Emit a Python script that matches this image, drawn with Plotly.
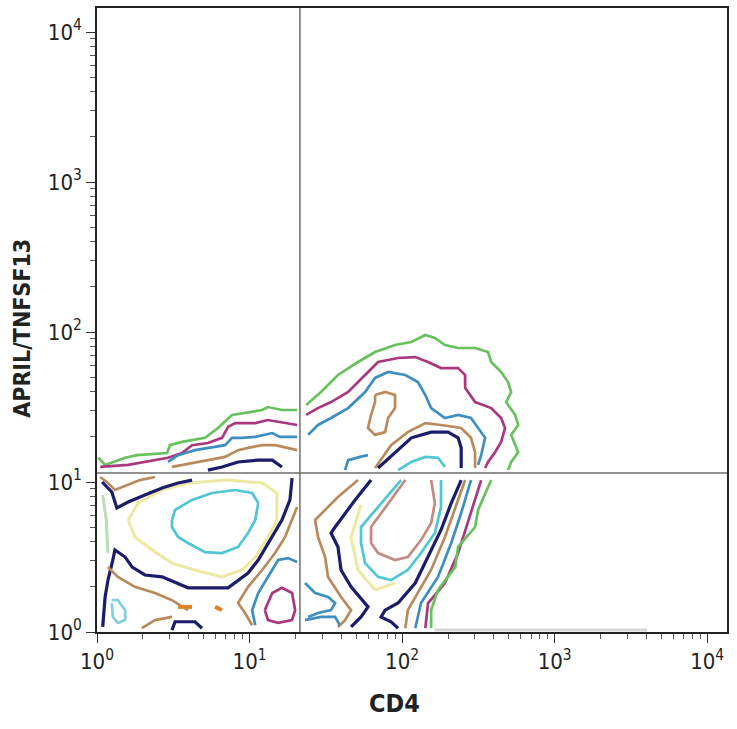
import plotly.graph_objects as go

# ---------------- axis / gate values ----------------
X_RANGE_LOG = [0, 4.13]
Y_RANGE_LOG = [0, 4.16]
MAJOR_TICKS = [1, 10, 100, 1000, 10000]
MAJOR_TEXT = ["10<sup>0</sup>", "10<sup>1</sup>", "10<sup>2</sup>", "10<sup>3</sup>", "10<sup>4</sup>"]
MINOR_TICKS = [m * 10 ** d for d in range(0, 4) for m in range(2, 10)]
GATE_X = 21.4   # CD4 quadrant boundary
GATE_Y = 11.5   # APRIL quadrant boundary
X_TITLE = "CD4"
Y_TITLE = "APRIL/TNFSF13"

# ---------------- contour paths (CD4, APRIL) ----------------
# upper-left quadrant
UL_GREEN = ([1.02, 1.13, 1.53, 1.83, 2.88, 3.01, 3.61, 5.11, 6.21, 7.23, 7.68, 12.1, 13.2, 16.3, 20.5],
            [14.5, 13.0, 14.5, 15.1, 15.6, 17.6, 18.5, 19.7, 22.9, 26.7, 28.0, 30.2, 31.6, 30.2, 30.2])
UL_MAGENTA = ([1.05, 1.60, 2.92, 3.61, 4.20, 5.34, 6.60, 7.23, 8.04, 10.9, 13.2, 16.3, 20.5],
              [12.6, 13.0, 14.5, 15.6, 17.6, 18.2, 19.7, 23.3, 24.7, 24.7, 25.9, 25.1, 24.0])
UL_BLUE = ([2.92, 3.40, 4.39, 5.34, 6.91, 7.68, 8.93, 10.9, 14.1, 15.8, 20.5],
           [13.6, 15.1, 16.3, 16.9, 17.6, 19.7, 19.7, 20.0, 21.2, 20.0, 20.0])
UL_BROWN = ([3.10, 4.39, 5.34, 6.91, 8.41, 9.78, 12.1, 14.7, 17.9, 20.5],
            [12.6, 13.4, 14.0, 14.7, 16.3, 16.9, 17.6, 17.6, 16.9, 16.3])
UL_NAVY = ([5.34, 6.60, 8.41, 11.4, 14.1, 15.1, 16.3],
           [12.0, 12.6, 13.6, 14.0, 14.0, 13.4, 12.6])

# lower-left quadrant
LL_NAVY_TOP = ([1.08, 1.25, 1.35, 1.60, 2.06, 2.67, 3.40, 4.20],
               [10.0, 8.58, 6.71, 7.36, 8.19, 9.12, 9.84, 10.3])
LL_BROWN_TOP = ([1.05, 1.18, 1.31, 1.53, 1.91, 2.40],
                [10.8, 9.84, 8.84, 9.40, 10.3, 10.8])
LL_NAVY = ([19.0, 18.4, 16.3, 13.2, 11.4, 9.78, 8.04, 7.23, 3.95, 3.25, 2.67, 2.06, 1.70, 1.53, 1.31, 1.27, 1.18, 1.13, 1.09],
           [10.6, 7.59, 5.58, 3.92, 3.02, 2.47, 2.12, 1.97, 1.97, 2.15, 2.33, 2.40, 2.71, 3.16, 3.52, 3.02, 2.22, 1.71, 1.08])
LL_NAVY_BOTTOM = ([3.10, 3.25, 4.39, 4.88], [1.03, 1.17, 1.17, 1.06])
LL_CYAN = ([3.10, 3.25, 4.20, 5.68, 8.04, 10.4, 11.4, 10.9, 9.78, 8.41, 6.60, 5.11, 3.95, 3.40, 3.10, 3.10],
           [5.58, 6.51, 7.59, 8.45, 8.84, 8.45, 7.24, 5.58, 4.57, 3.69, 3.36, 3.41, 3.92, 4.30, 5.01, 5.58])
LL_YELLOW = ([1.60, 1.86, 2.67, 3.95, 7.23, 12.1, 15.1, 15.1, 13.2, 10.9, 8.93, 6.60, 4.39, 3.10, 2.30, 1.77, 1.60],
             [5.58, 7.24, 8.84, 9.84, 10.3, 9.84, 8.45, 5.58, 4.30, 3.16, 2.59, 2.33, 2.59, 2.88, 3.52, 4.30, 5.58])
LL_PALEGREEN = ([1.09, 1.15, 1.18], [8.19, 5.58, 3.36])
LL_BROWN_LOW = ([1.18, 1.37, 1.77, 2.40, 3.10, 3.61, 3.95],
                [2.71, 2.33, 2.00, 1.82, 1.63, 1.47, 1.40])
LL_BROWN_BOTTOM = ([1.97, 2.40, 3.10], [1.06, 1.20, 1.26])
LL_BROWN_RIGHT = ([10.4, 9.34, 8.41, 9.78, 12.1, 14.7, 17.1, 19.0, 20.5],
                  [1.11, 1.34, 1.56, 2.00, 2.59, 3.36, 4.30, 5.58, 6.81])
LL_ORANGE_1 = ([3.40, 4.20], [1.47, 1.47])
LL_ORANGE_2 = ([5.94, 6.60], [1.47, 1.40])
LL_BLUE_RIGHT = ([10.9, 10.4, 11.4, 13.2, 15.4, 17.9, 20.5],
                 [1.11, 1.40, 1.82, 2.33, 3.02, 3.11, 2.93])
LL_MAGENTA_LOOP = ([12.6, 14.1, 16.3, 19.0, 19.9, 19.0, 15.4, 13.2, 12.6],
                   [1.40, 1.82, 1.97, 1.82, 1.40, 1.20, 1.15, 1.20, 1.40])
LL_CYAN_LOOP = ([1.25, 1.37, 1.53, 1.53, 1.37, 1.27, 1.25],
                [1.63, 1.63, 1.40, 1.20, 1.15, 1.26, 1.56])

# upper-right quadrant
UR_GREEN = ([23.5, 29.4, 38.0, 51.4, 66.5, 89.9, 115, 142, 164, 191, 233, 301, 366, 384, 446, 495, 519, 481, 551, 577, 519, 577, 519, 495],
            [32.6, 39.8, 51.7, 63.1, 73.6, 81.9, 85.8, 95.5, 91.2, 81.9, 78.2, 78.2, 73.6, 63.1, 54.1, 46.4, 39.8, 34.1, 28.0, 24.0, 20.6, 15.8, 13.6, 12.0])
UR_MAGENTA = ([23.5, 28.1, 34.2, 44.3, 57.2, 69.6, 94.1, 122, 148, 180, 233, 259, 259, 301, 384, 446, 473, 446, 407, 366, 350],
              [28.0, 31.1, 34.1, 39.8, 51.7, 63.1, 67.1, 68.1, 63.1, 57.5, 57.5, 51.7, 42.4, 34.1, 31.1, 26.7, 22.9, 18.5, 15.8, 13.6, 12.4])
UR_BLUE = ([24.2, 28.1, 34.2, 44.3, 57.2, 66.5, 80.9, 105, 127, 142, 155, 191, 233, 283, 315, 350, 330, 315],
           [20.6, 24.0, 26.7, 31.1, 39.8, 49.4, 54.1, 51.7, 46.4, 38.0, 31.1, 26.7, 28.0, 26.7, 22.9, 19.7, 15.1, 13.0])
UR_BROWN_LOOP = ([66.5, 77.4, 89.9, 89.9, 80.9, 77.4, 66.5, 59.8, 62.6, 66.5, 66.5],
                 [38.0, 39.8, 38.0, 31.1, 26.7, 21.5, 20.6, 22.9, 28.0, 34.1, 38.0])
UR_BROWN = ([66.5, 84.7, 109, 142, 180, 244, 283, 301, 301],
            [12.4, 17.6, 21.5, 24.7, 24.0, 22.9, 19.7, 15.8, 12.4])
UR_NAVY = ([69.6, 89.9, 115, 155, 200, 233, 244, 244],
           [12.4, 15.8, 19.7, 21.5, 21.5, 19.7, 16.9, 12.4])
UR_CYAN = ([94.1, 115, 142, 172, 191], [12.0, 13.6, 14.7, 14.5, 12.6])
UR_BLUE_HOOK = ([42.3, 44.3, 53.0, 59.8], [12.0, 14.0, 14.7, 15.1])

# lower-right quadrant
LR_BROWN_LEFT = ([51.4, 38.0, 26.9, 28.1, 31.3, 32.7, 39.8, 46.3, 42.3, 38.0],
                 [10.3, 7.94, 5.58, 4.30, 3.16, 2.33, 1.71, 1.40, 1.20, 1.08])
LR_NAVY_LEFT = ([62.6, 49.2, 36.4, 34.2, 38.0, 39.8, 46.3, 59.8, 53.8, 46.3],
                [10.3, 7.59, 5.01, 4.57, 3.69, 2.59, 2.00, 1.47, 1.26, 1.08])
LR_NAVY_RIGHT = ([244, 210, 180, 148, 122, 94.1, 77.4, 72.8, 84.7, 94.1],
                 [10.3, 7.24, 4.79, 3.16, 2.12, 1.56, 1.40, 1.26, 1.17, 1.06])
LR_YELLOW = ([53.8, 46.3, 51.4, 66.5, 89.9], [7.02, 4.30, 2.59, 1.91, 2.12])
LR_CYAN = ([98.5, 72.8, 53.8, 53.8, 57.2, 69.6, 84.7, 109, 133, 164, 180, 180],
           [10.3, 7.24, 5.01, 3.92, 2.88, 2.33, 2.22, 2.59, 3.36, 4.57, 6.81, 10.3])
LR_PINK = ([105, 77.4, 62.6, 62.6, 69.6, 89.9, 109, 133, 155, 164, 155],
           [10.3, 6.81, 5.01, 3.92, 3.36, 3.02, 3.16, 4.10, 5.33, 7.24, 10.3])
LR_BROWN_RIGHT = ([259, 223, 191, 155, 122, 109, 105], [10.3, 6.81, 4.30, 2.59, 1.71, 1.40, 1.06])
LR_BLUE_RIGHT = ([283, 244, 210, 172, 133, 122], [10.3, 6.21, 3.92, 2.33, 1.56, 1.06])
LR_MAGENTA_RIGHT = ([330, 283, 233, 191, 148, 142], [10.3, 6.21, 3.36, 2.12, 1.56, 1.06])
LR_GREEN_RIGHT = ([384, 315, 301, 233, 223, 172, 155, 155], [10.3, 6.51, 5.01, 3.69, 2.71, 1.91, 1.40, 1.06])
LR_BLUE_LOW_1 = ([23.1, 26.9, 32.7, 36.4, 34.2, 28.1, 24.2], [2.12, 1.82, 1.71, 1.56, 1.40, 1.34, 1.26])
LR_BLUE_LOW_2 = ([23.1, 29.4, 36.4, 39.0], [1.20, 1.26, 1.26, 1.11])
BASELINE = ([163, 4045], [1.03, 1.03])

# ---------------- styles ----------------
GREEN = "#67c15c"
MAGENTA = "#a9387f"
BLUE = "#3e8ec0"
BROWN = "#b98a5c"
NAVY = "#1b1c6a"
CYAN = "#4fc6d2"
YELLOW = "#ece9a2"
ORANGE = "#e2832c"
PINK = "#c38c82"
PALEGREEN = "#b8e0b2"
LIGHTCYAN = "#80d2de"

paths = [
    (UL_GREEN, GREEN, 2.7), (UL_MAGENTA, MAGENTA, 2.7), (UL_BLUE, BLUE, 2.7),
    (UL_BROWN, BROWN, 2.7), (UL_NAVY, NAVY, 3.2),
    (LL_YELLOW, YELLOW, 3), (LL_PALEGREEN, PALEGREEN, 3), (LL_CYAN, CYAN, 2.7),
    (LL_BROWN_TOP, BROWN, 2.7), (LL_NAVY_TOP, NAVY, 3.2), (LL_NAVY, NAVY, 3.2),
    (LL_NAVY_BOTTOM, NAVY, 3.2), (LL_BROWN_LOW, BROWN, 2.7), (LL_BROWN_BOTTOM, BROWN, 2.7),
    (LL_BROWN_RIGHT, BROWN, 2.7), (LL_ORANGE_1, ORANGE, 4), (LL_ORANGE_2, ORANGE, 4),
    (LL_BLUE_RIGHT, BLUE, 2.7), (LL_MAGENTA_LOOP, MAGENTA, 2.7), (LL_CYAN_LOOP, LIGHTCYAN, 2.7),
    (UR_GREEN, GREEN, 2.7), (UR_MAGENTA, MAGENTA, 2.7), (UR_BLUE, BLUE, 2.7),
    (UR_BROWN_LOOP, BROWN, 2.7), (UR_BROWN, BROWN, 2.7), (UR_NAVY, NAVY, 3.2),
    (UR_CYAN, CYAN, 2.7), (UR_BLUE_HOOK, BLUE, 2.7),
    (LR_YELLOW, YELLOW, 3), (LR_BROWN_LEFT, BROWN, 2.7), (LR_NAVY_LEFT, NAVY, 3.2),
    (LR_CYAN, CYAN, 2.7), (LR_PINK, PINK, 2.7), (LR_NAVY_RIGHT, NAVY, 3.2),
    (LR_BROWN_RIGHT, BROWN, 2.7), (LR_BLUE_RIGHT, BLUE, 2.7), (LR_MAGENTA_RIGHT, MAGENTA, 2.7),
    (LR_GREEN_RIGHT, GREEN, 2.7), (LR_BLUE_LOW_1, BLUE, 2.7), (LR_BLUE_LOW_2, BLUE, 2.7),
    (BASELINE, "#d6d6d6", 3),
]

fig = go.Figure()
for (xs, ys), color, w in paths:
    fig.add_trace(go.Scatter(x=xs, y=ys, mode="lines", line=dict(color=color, width=w),
                             hoverinfo="skip", showlegend=False))

# quadrant gate lines
fig.add_trace(go.Scatter(x=[GATE_X, GATE_X], y=[1, 10 ** Y_RANGE_LOG[1]], mode="lines",
                         line=dict(color="#6e6e6e", width=1.5), showlegend=False, hoverinfo="skip"))
fig.add_trace(go.Scatter(x=[1, 10 ** X_RANGE_LOG[1]], y=[GATE_Y, GATE_Y], mode="lines",
                         line=dict(color="#6e6e6e", width=1.5), showlegend=False, hoverinfo="skip"))

FONT = "DejaVu Sans Condensed, Liberation Sans Narrow, sans-serif"
axis_common = dict(
    type="log", tickmode="array", tickvals=MAJOR_TICKS, ticktext=MAJOR_TEXT,
    ticks="outside", ticklen=9, tickwidth=1.3, tickcolor="#333",
    showline=True, linecolor="#222", linewidth=1.6, mirror=True,
    showgrid=False, zeroline=False, automargin=False,
    tickfont=dict(family=FONT, size=22, color="#222"),
    minor=dict(tickmode="array", tickvals=MINOR_TICKS, ticks="outside", ticklen=5,
               tickwidth=1, tickcolor="#555", showgrid=False),
)

fig.update_layout(
    width=737, height=729,
    margin=dict(l=97, r=10, t=8, b=97),
    paper_bgcolor="white", plot_bgcolor="white",
    xaxis=dict(axis_common, range=X_RANGE_LOG),
    yaxis=dict(axis_common, range=Y_RANGE_LOG),
    annotations=[
        dict(text="<b>" + X_TITLE + "</b>", xref="paper", yref="paper", x=0.473, y=-0.115,
             xanchor="center", yanchor="middle", showarrow=False,
             font=dict(family=FONT, size=25, color="#222")),
        dict(text="<b>" + Y_TITLE + "</b>", xref="paper", yref="paper", x=-0.119, y=0.486,
             xanchor="center", yanchor="middle", showarrow=False, textangle=-90,
             font=dict(family=FONT, size=23, color="#222")),
    ],
)

fig.write_html("out.html", config={"displayModeBar": False},
               post_script="document.body.style.margin='0px';document.body.style.overflow='hidden';")
